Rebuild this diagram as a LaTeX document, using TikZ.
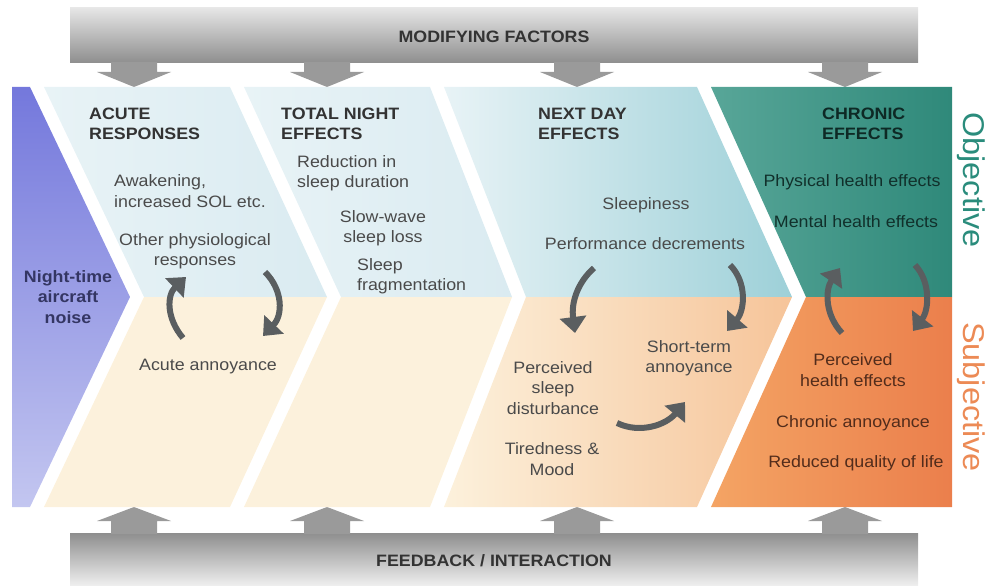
\documentclass[tikz,border=0pt]{standalone}
\usepackage{fontspec}
\setmainfont{Liberation Sans}[FakeStretch=1.08]
\usetikzlibrary{arrows.meta}
\definecolor{bannerL}{HTML}{E6E6E6}
\definecolor{bannerD}{HTML}{8E8E8E}
\definecolor{arrowgray}{HTML}{9A9A9A}
\definecolor{cyclegray}{HTML}{5A5E60}
\definecolor{noiseT}{HTML}{7478DC}
\definecolor{noiseM}{HTML}{5E63D2}
\definecolor{noiseB}{HTML}{C3C6F0}
\definecolor{objL}{HTML}{E8F3F6}
\definecolor{objR}{HTML}{DAEBF1}
\definecolor{objnR}{HTML}{9DD0D8}
\definecolor{subL}{HTML}{FCF1DC}
\definecolor{subnR}{HTML}{F6C499}
\definecolor{tealL}{HTML}{58A698}
\definecolor{tealR}{HTML}{2F897A}
\definecolor{oranL}{HTML}{F4A464}
\definecolor{oranR}{HTML}{EB7F4C}
\definecolor{headgray}{HTML}{333333}
\definecolor{itemgray}{HTML}{4A4A4A}
\definecolor{objtext}{HTML}{2A8C7C}
\definecolor{subtext}{HTML}{EC8A55}

\begin{document}
\begin{tikzpicture}[x=1pt,y=-1pt] %% tikz
	\tikzstyle{head}=[font=\bfseries\fontsize{16.5}{20.5}\selectfont,text=headgray,align=left,inner sep=0pt];
	\tikzstyle{item}=[font=\fontsize{16.5}{20.5}\selectfont,text=itemgray,align=center,inner sep=0pt];
	\tikzstyle{side}=[font=\fontsize{30}{30}\selectfont,rotate=-90,inner sep=0pt];
	\tikzstyle{cycle}=[line width=6pt,draw=cyclegray,-{Triangle[width=26pt,length=16pt]}];
	\useasboundingbox (0,0) rectangle (986,586);
	%% banners
	\shade[top color=bannerL,bottom color=bannerD] (70,8) rectangle (918,63);
	\shade[top color=bannerD,bottom color=bannerL!60!white] (70,533) rectangle (918,586);
	\foreach \x in {134,327,577,845}{
		\fill[arrowgray] (\x-23,62) -- (\x+23,62) -- (\x+23,72) -- (\x+37,72) -- (\x,87) -- (\x-37,72) -- (\x-23,72) -- cycle;
		\fill[arrowgray] (\x-23,534) -- (\x+23,534) -- (\x+23,521) -- (\x+37,521) -- (\x,507) -- (\x-37,521) -- (\x-23,521) -- cycle;
	}
	\node[head,align=center] (modif) at (494,37) {MODIFYING FACTORS};
	\node[head,align=center] (feedb) at (494,561) {FEEDBACK / INTERACTION};
	%% chevrons
	\shade[top color=noiseT,middle color=noiseM,bottom color=noiseB] (12,87) -- (30,87) -- (130,297) -- (30,507) -- (12,507) -- cycle;
	\shade[left color=objL,right color=objR] (44,87) -- (230,87) -- (327,297) -- (144,297) -- cycle;
	\fill[subL] (144,297) -- (327,297) -- (230,507) -- (44,507) -- cycle;
	\shade[left color=objL,right color=objR] (244,87) -- (430,87) -- (512,297) -- (341,297) -- cycle;
	\fill[subL] (341,297) -- (512,297) -- (430,507) -- (244,507) -- cycle;
	\shade[left color=objL,right color=objnR] (444,87) -- (697,87) -- (792,297) -- (526,297) -- cycle;
	\shade[left color=subL,right color=subnR] (526,297) -- (792,297) -- (697,507) -- (444,507) -- cycle;
	\shade[left color=tealL,right color=tealR] (711,87) -- (952,87) -- (952,297) -- (806,297) -- cycle;
	\shade[left color=oranL,right color=oranR] (806,297) -- (952,297) -- (952,507) -- (711,507) -- cycle;
	%% side labels
	\node[side,text=objtext] (obj) at (971,180) {Objective};
	\node[side,text=subtext] (subj) at (971,397) {Subjective};
	%% headings
	\node[head,text=noiseT!45!black,align=center] (noise) at (68,297) {Night-time\\aircraft\\noise};
	\node[head,anchor=west] (acute) at (89,124) {ACUTE\\RESPONSES};
	\node[head,anchor=west] (total) at (281,124) {TOTAL NIGHT\\EFFECTS};
	\node[head,anchor=west] (nextday) at (538,124) {NEXT DAY\\EFFECTS};
	\node[head,anchor=west,text=tealR!30!black] (chronic) at (822,124) {CHRONIC\\EFFECTS};
	%% acute responses
	\node[item,anchor=west,align=left] (awake) at (114,191) {Awakening,\\increased SOL etc.};
	\node[item] (physio) at (195,251) {Other physiological\\responses};
	\node[item] (acann) at (208,367) {Acute annoyance};
	%% total night
	\node[item,anchor=west,align=left] (reduc) at (297,173) {Reduction in\\sleep duration};
	\node[item] (swave) at (383,228) {Slow-wave\\sleep loss};
	\node[item,anchor=west,align=left] (frag) at (357,276) {Sleep\\fragmentation};
	%% next day
	\node[item] (sleepy) at (646,205) {Sleepiness};
	\node[item] (perf) at (645,244) {Performance decrements};
	\node[item] (stann) at (689,358) {Short-term\\annoyance};
	\node[item] (psd) at (553,388) {Perceived\\sleep\\disturbance};
	\node[item] (tired) at (552,459) {Tiredness \&\\Mood};
	%% chronic
	\node[item,text=tealR!35!black] (phys) at (852,182) {Physical health effects};
	\node[item,text=tealR!35!black] (ment) at (856,222) {Mental health effects};
	\node[item,text=oranR!35!black] (phe) at (853,370) {Perceived\\health effects};
	\node[item,text=oranR!35!black] (chann) at (853,423) {Chronic annoyance};
	\node[item,text=oranR!35!black] (qol) at (856,463) {Reduced quality of life};
	%% cycles
	\draw[cycle] (183,338) .. controls (166,318) and (167,295) .. (186,277);
	\draw[cycle] (265,272) .. controls (283,290) and (283,315) .. (263,336);
	\draw[cycle] (594,268) .. controls (578,282) and (571,302) .. (575,333);
	\draw[cycle] (730,265) .. controls (747,282) and (745,310) .. (727,331);
	\draw[cycle] (617,423) .. controls (640,434) and (666,425) .. (685,402);
	\draw[cycle] (842,333) .. controls (825,315) and (825,290) .. (840,268);
	\draw[cycle] (915,265) .. controls (931,282) and (929,310) .. (913,331);
\end{tikzpicture}
\end{document}
